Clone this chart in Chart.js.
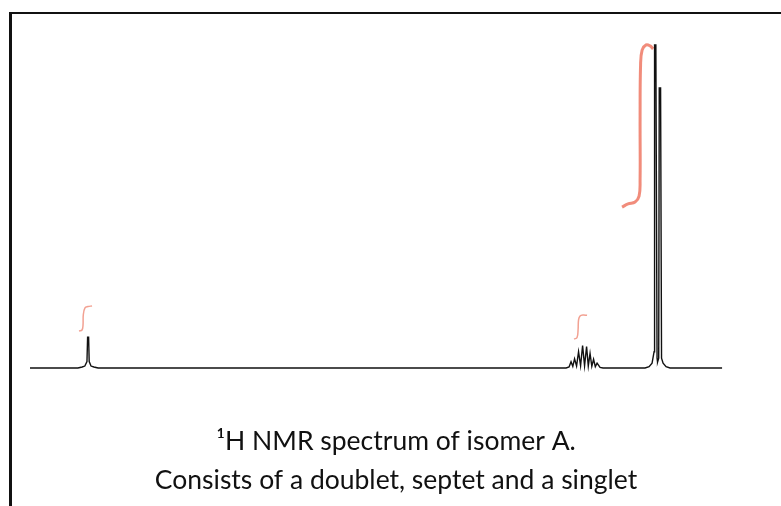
<!DOCTYPE html>
<html lang="en">
<head>
    <meta charset="UTF-8">
    <title>1H NMR spectrum of isomer A</title>
    <script src="https://cdn.jsdelivr.net/npm/chart.js"></script>
    <style>
        body { margin: 0; background: #fff; }
        .wrap { position: relative; width: 781px; height: 506px; overflow: hidden; }
        .frame { position: absolute; left: 9px; top: 12px; width: 900px; height: 600px;
                 border-top: 2px solid #111; border-left: 3px solid #111; }
        canvas { position: absolute; left: 0; top: 0; }
    </style>
</head>
<body>
<div class="wrap">
    <div class="frame"></div>
    <canvas id="nmrChart" width="781" height="506"></canvas>
</div>

<script>
    // spectrum trace, chemical shift (ppm) and relative intensity
    const spectrumPpm = [
        13.00, 12.10, 12.02, 11.97, 11.93, 11.918, 11.899, 11.888, 11.854, 11.80, 11.72,
        2.93, 2.874, 2.837, 2.804, 2.771, 2.733, 2.696, 2.658, 2.620, 2.583, 2.545,
        2.513, 2.480, 2.447, 2.414, 2.381, 2.348, 2.292, 2.236,
        1.447, 1.371, 1.315, 1.277, 1.268, 1.244, 1.221, 1.212, 1.190, 1.180, 1.155,
        1.137, 1.108, 1.052, 0.977, 0.00
    ];
    const spectrumIntensity = [
        0, 0, 0.3, 0.6, 2.0, 9.5, 9.5, 2.0, 0.6, 0.3, 0,
        0, 0.3, 1.9, 0.5, 2.8, 0.6, 5.0, 0.7, 6.9, 0.7, 6.6,
        0.6, 4.5, 0.5, 2.7, 0.4, 1.5, 0.2, 0,
        0, 0.4, 1.5, 5.0, 99.4, 99.4, 3.0, 1.8, 3.0, 86.2, 86.2,
        3.0, 1.5, 0.4, 0, 0
    ];

    // hand-drawn integral curves
    const integralSingletPpm = [12.079, 12.023, 12.004, 11.999, 11.967, 11.910, 11.835];
    const integralSingletVal = [11.4, 11.7, 13.2, 16.3, 18.5, 18.9, 19.1];
    const integralSeptetPpm = [2.780, 2.724, 2.705, 2.696, 2.668, 2.611, 2.536];
    const integralSeptetVal = [8.9, 9.4, 11.7, 14.8, 16.0, 16.3, 16.2];
    const integralDoubletPpm = [1.879, 1.766, 1.634, 1.559, 1.540, 1.540, 1.531, 1.502, 1.427, 1.352, 1.295];
    const integralDoubletVal = [49.5, 50.5, 51.1, 52.9, 57.8, 76.3, 93.2, 97.8, 99.4, 99.1, 98.2];

    const captionLines = ["\u00B9H NMR spectrum of isomer A.", "Consists of a doublet, septet and a singlet"];

    const pts = (xs, ys) => xs.map((x, i) => ({ x: x, y: ys[i] }));
    const integralColor = "rgba(238, 120, 100, 0.85)";

    new Chart(document.getElementById("nmrChart"), {
        type: "line",
        data: {
            datasets: [
                {
                    data: pts(spectrumPpm, spectrumIntensity),
                    borderColor: "#111",
                    borderWidth: 1.4,
                    pointRadius: 0,
                    tension: 0,
                    clip: false
                },
                {
                    data: pts(integralSingletPpm, integralSingletVal),
                    borderColor: "rgba(238, 130, 110, 0.75)",
                    borderWidth: 1.5,
                    pointRadius: 0,
                    tension: 0.4
                },
                {
                    data: pts(integralSeptetPpm, integralSeptetVal),
                    borderColor: "rgba(238, 130, 110, 0.75)",
                    borderWidth: 1.5,
                    pointRadius: 0,
                    tension: 0.4
                },
                {
                    data: pts(integralDoubletPpm, integralDoubletVal),
                    borderColor: integralColor,
                    borderWidth: 3,
                    pointRadius: 0,
                    tension: 0.4
                }
            ]
        },
        options: {
            responsive: false,
            animation: false,
            layout: { padding: { left: 30, right: 19, top: 43, bottom: 6.5 } },
            scales: {
                x: { type: "linear", reverse: true, min: -0.75, max: 13, display: false },
                y: { min: 0, max: 100, display: false }
            },
            plugins: {
                legend: { display: false },
                tooltip: { enabled: false },
                title: {
                    display: true,
                    position: "bottom",
                    text: captionLines,
                    color: "#111",
                    font: { family: "Lato", size: 26.5, weight: "normal", lineHeight: 1.4717 },
                    padding: { top: 53.5, bottom: 0 }
                }
            }
        }
    });
</script>
</body>
</html>
